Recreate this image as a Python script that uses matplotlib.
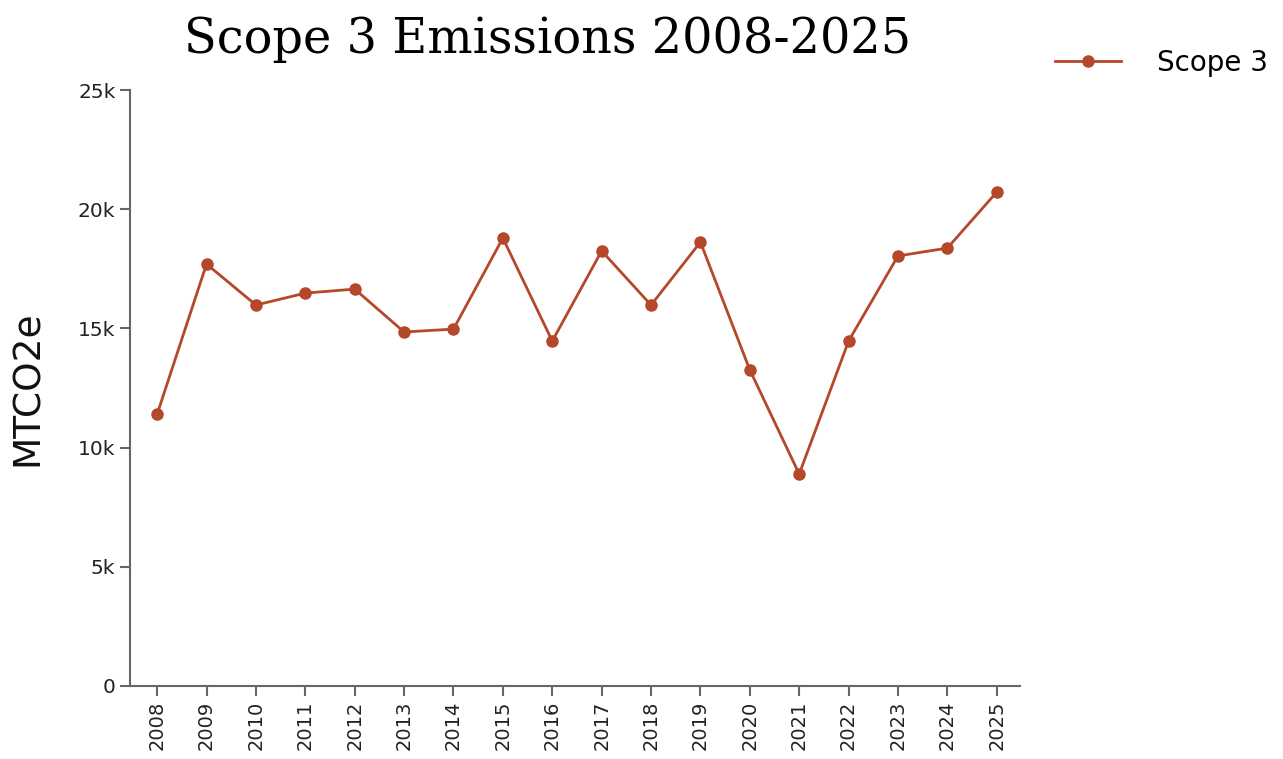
import matplotlib
matplotlib.use("Agg")
import matplotlib.pyplot as plt

years = [str(y) for y in range(2008, 2026)]
scope3 = [11400, 17700, 15980, 16480, 16650, 14850, 14970, 18790, 14470,
          18250, 15980, 18620, 13260, 8890, 14470, 18040, 18370, 20720]
yticks = [0, 5000, 10000, 15000, 20000, 25000]
ytick_labels = ["0", "5k", "10k", "15k", "20k", "25k"]

col = "#b5472a"

fig = plt.figure(figsize=(12.83, 7.59), dpi=100)
ax = fig.add_axes([0.1013, 0.0962, 0.6937, 0.7852])

x = list(range(len(years)))
ax.plot(x, scope3, color=col, lw=2, marker="o", ms=8, label="Scope 3")

ax.set_xlim(-0.55, len(years) - 1 + 0.47)
ax.set_ylim(0, 25000)
ax.set_xticks(x)
ax.set_xticklabels(years, rotation=90, fontsize=14, color="#222222")
ax.set_yticks(yticks)
ax.set_yticklabels(ytick_labels, fontsize=14.5, color="#222222")
ax.set_ylabel("MTCO2e", fontsize=27, labelpad=23, color="#111111")

for s in ["top", "right"]:
    ax.spines[s].set_visible(False)
for s in ["left", "bottom"]:
    ax.spines[s].set_color("#666666")
    ax.spines[s].set_linewidth(1.5)
ax.tick_params(length=7, width=1.5, color="#666666")

fig.text(0.427, 0.948, "Scope 3 Emissions 2008-2025", family="DejaVu Serif",
         fontsize=34.5, ha="center", va="center")

fig.legend(loc="center left", bbox_to_anchor=(0.8025, 0.917), frameon=False,
           fontsize=20, handlelength=2.4, handletextpad=1.3)

fig.savefig("out.png", dpi=100)
